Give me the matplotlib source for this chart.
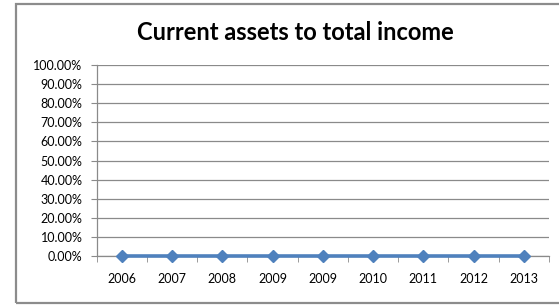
import matplotlib
matplotlib.use("Agg")
import matplotlib.pyplot as plt
from matplotlib.patches import Rectangle
from matplotlib.ticker import FixedLocator, PercentFormatter
import numpy as np

categories = ["2006", "2007", "2008", "2009", "2009", "2010", "2011", "2012", "2013"]
values = [0, 0, 0, 0, 0, 0, 0, 0, 0]
yticks = [0, 10, 20, 30, 40, 50, 60, 70, 80, 90, 100]
title = "Current assets to total income"

W, H = 559, 306
fig = plt.figure(figsize=(W / 100, H / 100), dpi=100)
fig.patch.set_facecolor("white")

# outer chart border
fig.add_artist(Rectangle((16 / W, 1 - 303 / H), (W + 10 - 16) / W, (303 - 4) / H,
                         transform=fig.transFigure, fill=False,
                         edgecolor="#8c8c8c", linewidth=1.6))

left, right, top, bottom = 96.7, 549, 65, 256
ax = fig.add_axes([left / W, 1 - bottom / H, (right - left) / W, (bottom - top) / H])

x = np.arange(len(categories))
ax.plot(x, values, color="#4F81BD", linewidth=2.6, marker="D", markersize=6.5,
        markerfacecolor="#4F81BD", markeredgecolor="#4F81BD", zorder=5, clip_on=False)

ax.set_xlim(-0.5, len(categories) - 0.5)
ax.set_ylim(0, 100)
ax.set_yticks(yticks)
ax.yaxis.set_major_formatter(PercentFormatter(decimals=2))
ax.grid(axis="y", color="#8a8a8a", linewidth=0.9)
ax.set_axisbelow(True)

ax.set_xticks(x)
ax.set_xticklabels(categories)
ax.xaxis.set_minor_locator(FixedLocator(np.arange(-0.5, len(categories), 1.0)))
ax.tick_params(axis="x", which="major", length=0, pad=12, labelsize=9)
ax.tick_params(axis="x", which="minor", length=4, color="#8a8a8a", direction="out")
ax.tick_params(axis="y", which="major", length=4.3, color="#8a8a8a", direction="out",
               labelsize=9, pad=6)
for lab in ax.get_xticklabels() + ax.get_yticklabels():
    lab.set_fontfamily("Lato")

for s in ["top", "right"]:
    ax.spines[s].set_visible(False)
for s in ["left", "bottom"]:
    ax.spines[s].set_color("#8a8a8a")
    ax.spines[s].set_linewidth(0.9)

fig.text(295 / W, 1 - 33 / H, title, ha="center", va="center",
         fontsize=17, fontweight="bold", family="Lato")

fig.savefig("out.png", dpi=100)
